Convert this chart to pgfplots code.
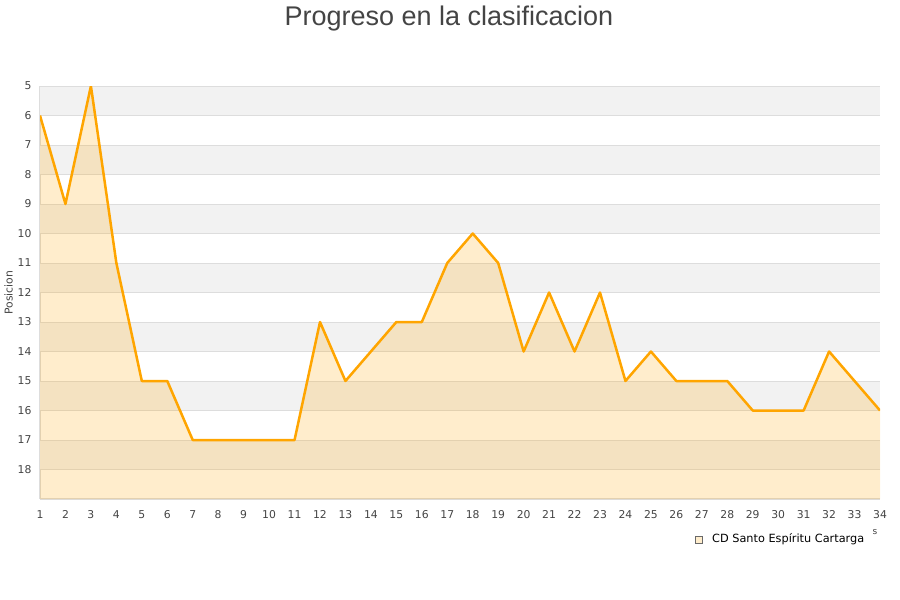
\documentclass[border=0pt]{standalone}
\usepackage{pgfplots}
\pgfplotsset{compat=1.18}
\usepackage{fontspec}
\setmainfont{DejaVu Sans}
\newfontfamily\titlefont{Liberation Sans}
\definecolor{txt}{HTML}{444444}
\definecolor{band}{HTML}{F2F2F2}
\definecolor{gridc}{HTML}{DDDDDD}
\definecolor{lineor}{HTML}{FFA500}
\begin{document}
\begin{tikzpicture}
\begin{axis}[
  at={(40pt,101pt)}, anchor=south west,
  scale only axis, width=840pt, height=413pt,
  xmin=1, xmax=34, ymin=5, ymax=19,
  y dir=reverse,
  xtick={1,...,34}, ytick={5,...,18},
  tick style={draw=none},
  axis x line*=bottom, axis y line*=left,
  axis line style={gridc, line width=1.2pt},
  tick label style={text=txt, font=\fontsize{10.8}{12}\selectfont},
  /pgf/number format/assume math mode=true,
  xticklabel style={yshift=-8pt},
  yticklabel style={xshift=-5pt},
  ylabel={Posicion}, ylabel style={text=txt, font=\fontsize{10.8}{12}\selectfont, yshift=-2pt},
  clip=true,
]
\pgfplotsinvokeforeach{5,7,9,11,13,15,17}{
  \fill[band] (axis cs:1,#1) rectangle (axis cs:34,#1+1);
}
\pgfplotsinvokeforeach{5,...,18}{
  \draw[gridc, line width=0.8pt] (axis cs:1,#1) -- (axis cs:34,#1);
}
\addplot[draw=none, fill=lineor, fill opacity=0.2] coordinates {
(1,6) (2,9) (3,5) (4,11) (5,15) (6,15) (7,17) (8,17) (9,17) (10,17) (11,17) (12,13) (13,15) (14,14) (15,13) (16,13) (17,11) (18,10) (19,11) (20,14) (21,12) (22,14) (23,12) (24,15) (25,14) (26,15) (27,15) (28,15) (29,16) (30,16) (31,16) (32,14) (33,15) (34,16) (34,19) (1,19)
} -- cycle;
\addplot[lineor, line width=2.5pt, line join=round, mark=none] coordinates {
(1,6) (2,9) (3,5) (4,11) (5,15) (6,15) (7,17) (8,17) (9,17) (10,17) (11,17) (12,13) (13,15) (14,14) (15,13) (16,13) (17,11) (18,10) (19,11) (20,14) (21,12) (22,14) (23,12) (24,15) (25,14) (26,15) (27,15) (28,15) (29,16) (30,16) (31,16) (32,14) (33,15) (34,16)
};
\end{axis}
\node[text=txt,font=\titlefont\fontsize{27}{30}\selectfont] at (449pt,581pt) {Progreso en la clasificacion};
\draw[txt!80, line width=0.6pt, fill=lineor!20] (695.5pt,56.5pt) rectangle (702.5pt,63.5pt);
\node[anchor=west, text=black, font=\fontsize{11.3}{12}\selectfont, inner sep=0pt] at (712pt,60.5pt) {CD Santo Espíritu Cartarga};
\node[text=txt, font=\fontsize{9}{10}\selectfont] at (875pt,68pt) {s};
\path (0,0) rectangle (900pt,600pt);
\end{tikzpicture}
\end{document}
